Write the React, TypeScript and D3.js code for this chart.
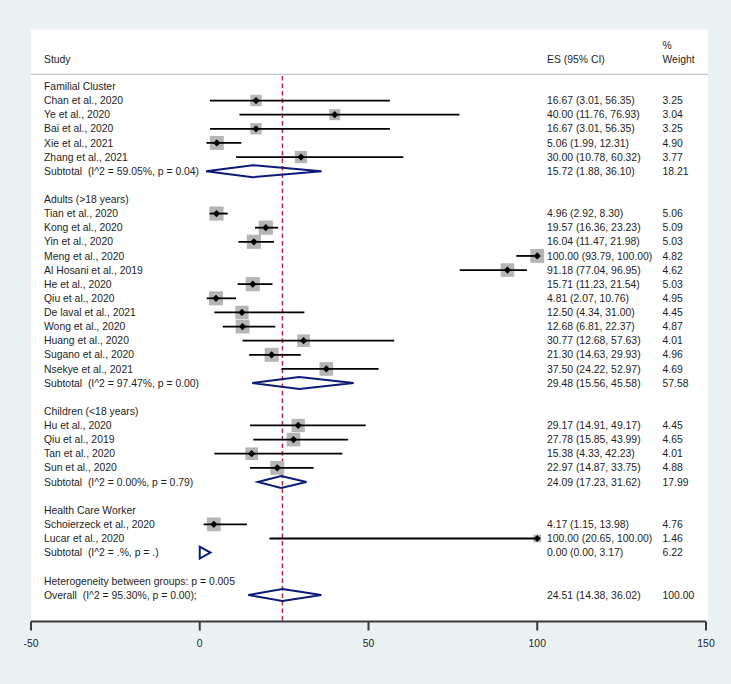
import React from "react";
import * as d3 from "d3";

const groupNames = ["Familial Cluster", "Adults (>18 years)", "Children (<18 years)", "Health Care Worker"];
const studyGroup = [0, 0, 0, 0, 0, 1, 1, 1, 1, 1, 1, 1, 1, 1, 1, 1, 1, 2, 2, 2, 2, 3, 3];
const studyNames = [
  "Chan et al., 2020", "Ye et al., 2020", "Bai et al., 2020", "Xie et al., 2021", "Zhang et al., 2021",
  "Tian et al., 2020", "Kong et al., 2020", "Yin et al., 2020", "Meng et al., 2020", "Al Hosani et al., 2019",
  "He et al., 2020", "Qiu et al., 2020", "De laval et al., 2021", "Wong et al., 2020", "Huang et al., 2020",
  "Sugano et al., 2020", "Nsekye et al., 2021",
  "Hu et al., 2020", "Qiu et al., 2019", "Tan et al., 2020", "Sun et al., 2020",
  "Schoierzeck et al., 2020", "Lucar et al., 2020",
];
const studyES = [16.67, 40.0, 16.67, 5.06, 30.0, 4.96, 19.57, 16.04, 100.0, 91.18, 15.71, 4.81, 12.5, 12.68, 30.77, 21.3, 37.5, 29.17, 27.78, 15.38, 22.97, 4.17, 100.0];
const studyLo = [3.01, 11.76, 3.01, 1.99, 10.78, 2.92, 16.36, 11.47, 93.79, 77.04, 11.23, 2.07, 4.34, 6.81, 12.68, 14.63, 24.22, 14.91, 15.85, 4.33, 14.87, 1.15, 20.65];
const studyHi = [56.35, 76.93, 56.35, 12.31, 60.32, 8.3, 23.23, 21.98, 100.0, 96.95, 21.54, 10.76, 31.0, 22.37, 57.63, 29.93, 52.97, 49.17, 43.99, 42.23, 33.75, 13.98, 100.0];
const studyWeight = [3.25, 3.04, 3.25, 4.9, 3.77, 5.06, 5.09, 5.03, 4.82, 4.62, 5.03, 4.95, 4.45, 4.87, 4.01, 4.96, 4.69, 4.45, 4.65, 4.01, 4.88, 4.76, 1.46];

const subtotalHet = ["(I^2 = 59.05%, p = 0.04)", "(I^2 = 97.47%, p = 0.00)", "(I^2 = 0.00%, p = 0.79)", "(I^2 = .%, p = .)"];
const subtotalES = [15.72, 29.48, 24.09, 0.0];
const subtotalLo = [1.88, 15.56, 17.23, 0.0];
const subtotalHi = [36.1, 45.58, 31.62, 3.17];
const subtotalWeight = [18.21, 57.58, 17.99, 6.22];

const heterogeneityText = "Heterogeneity between groups: p = 0.005";
const overallHet = "(I^2 = 95.30%, p = 0.00);";
const overallES = [24.51];
const overallLo = [14.38];
const overallHi = [36.02];
const overallWeight = [100.0];

const xTicks = [-50, 0, 50, 100, 150];

type Row =
  | { kind: "group"; label: string }
  | { kind: "study"; i: number }
  | { kind: "subtotal"; g: number }
  | { kind: "blank" }
  | { kind: "het" }
  | { kind: "overall" };

function buildRows(): Row[] {
  const rows: Row[] = [];
  groupNames.forEach((g, gi) => {
    rows.push({ kind: "group", label: g });
    studyNames.forEach((_, i) => {
      if (studyGroup[i] === gi) rows.push({ kind: "study", i });
    });
    rows.push({ kind: "subtotal", g: gi });
    rows.push({ kind: "blank" });
  });
  rows.push({ kind: "het" });
  rows.push({ kind: "overall" });
  return rows;
}

const W = 731;
const H = 684;
const FONT = "'Liberation Sans', Arial, Helvetica, sans-serif";
const FS = 10.4;
const TEXT = "#1e1e1e";
const NAVY = "#0c1a78";

const fmt = (v: number) => v.toFixed(2);
const esText = (e: number, l: number, h: number) => `${fmt(e)} (${fmt(l)}, ${fmt(h)})`;

export default function App() {
  const rows = buildRows();
  const x = d3.scaleLinear().domain([-50, 150]).range([31, 706]);
  const y = d3.scaleLinear().domain([0, rows.length - 1]).range([86.4, 595]);
  const panel = { x0: 31, x1: 708, y0: 29.5, y1: 621.5 };
  const textX = 44;
  const esX = 547;
  const wX = 662.5;
  const boxK = 6.3;
  const dH = 6;

  const diamond = (e: number, l: number, h: number, cy: number) => {
    const p = d3.path();
    p.moveTo(x(l), cy);
    p.lineTo(x(e), cy - dH);
    p.lineTo(x(h), cy);
    p.lineTo(x(e), cy + dH);
    p.closePath();
    return p.toString();
  };
  const marker = (cx: number, cy: number, r: number) =>
    `M${cx - r},${cy}L${cx},${cy - r}L${cx + r},${cy}L${cx},${cy + r}Z`;

  const txt = (tx: number, ty: number, s: string, key: string) => (
    <text key={key} x={tx} y={ty} dy="0.35em" fontFamily={FONT} fontSize={FS} fill={TEXT} style={{ whiteSpace: "pre" }}>
      {s}
    </text>
  );

  const els: React.ReactNode[] = [];
  rows.forEach((r, ri) => {
    const cy = y(ri);
    if (r.kind === "group") {
      els.push(txt(textX, cy, r.label, `g${ri}`));
    } else if (r.kind === "study") {
      const i = r.i;
      const s = boxK * Math.sqrt(studyWeight[i]);
      const cx = x(studyES[i]);
      els.push(
        <g key={`s${ri}`}>
          <rect x={cx - s / 2} y={cy - s / 2} width={s} height={s} fill="#b5b5b5" />
          <line x1={x(studyLo[i])} x2={x(studyHi[i])} y1={cy} y2={cy} stroke="#000" strokeWidth={1.8} />
          <path d={marker(cx, cy, 3.6)} fill="#000" />
        </g>
      );
      els.push(txt(textX, cy, studyNames[i], `sn${ri}`));
      els.push(txt(esX, cy, esText(studyES[i], studyLo[i], studyHi[i]), `se${ri}`));
      els.push(txt(wX, cy, fmt(studyWeight[i]), `sw${ri}`));
    } else if (r.kind === "subtotal") {
      const g = r.g;
      els.push(
        <path key={`d${ri}`} d={diamond(subtotalES[g], subtotalLo[g], subtotalHi[g], cy)} fill="none" stroke={NAVY} strokeWidth={2} strokeLinejoin="miter" />
      );
      els.push(txt(textX, cy, `Subtotal  ${subtotalHet[g]}`, `tn${ri}`));
      els.push(txt(esX, cy, esText(subtotalES[g], subtotalLo[g], subtotalHi[g]), `te${ri}`));
      els.push(txt(wX, cy, fmt(subtotalWeight[g]), `tw${ri}`));
    } else if (r.kind === "het") {
      els.push(txt(textX, cy, heterogeneityText, `h${ri}`));
    } else if (r.kind === "overall") {
      els.push(
        <path key={`o${ri}`} d={diamond(overallES[0], overallLo[0], overallHi[0], cy)} fill="none" stroke={NAVY} strokeWidth={2} />
      );
      els.push(txt(textX, cy, `Overall  ${overallHet}`, `on${ri}`));
      els.push(txt(esX, cy, esText(overallES[0], overallLo[0], overallHi[0]), `oe${ri}`));
      els.push(txt(wX, cy, fmt(overallWeight[0]), `ow${ri}`));
    }
  });

  const headerY = 59;
  return (
    <svg width={W} height={H} style={{ position: "absolute", left: 0, top: 0 }}>
      <rect x={0} y={0} width={W} height={H} fill="#eaf1f3" />
      <rect x={panel.x0} y={panel.y0} width={panel.x1 - panel.x0} height={panel.y1 - panel.y0} fill="#fff" />
      {txt(textX, headerY, "Study", "hs")}
      {txt(esX, headerY, "ES (95% CI)", "he")}
      {txt(wX, headerY - 13.5, "%", "hp")}
      {txt(wX, headerY, "Weight", "hw")}
      <line x1={panel.x0} x2={panel.x1} y1={74.3} y2={74.3} stroke="#c4c4c4" strokeWidth={1.2} />
      <line
        x1={x(overallES[0])}
        x2={x(overallES[0])}
        y1={76}
        y2={panel.y1}
        stroke="#b8263f"
        strokeWidth={1.5}
        strokeDasharray="4.5,3"
      />
      {els}
      <line x1={x(-50)} x2={x(150)} y1={panel.y1} y2={panel.y1} stroke="#3a3a3a" strokeWidth={2} />
      {xTicks.map((t) => (
        <g key={`t${t}`}>
          <line x1={x(t)} x2={x(t)} y1={panel.y1} y2={panel.y1 + 9} stroke="#3a3a3a" strokeWidth={2} />
          <text x={x(t)} y={643} dy="0.35em" textAnchor="middle" fontFamily={FONT} fontSize={FS} fill={TEXT}>
            {t}
          </text>
        </g>
      ))}
    </svg>
  );
}
